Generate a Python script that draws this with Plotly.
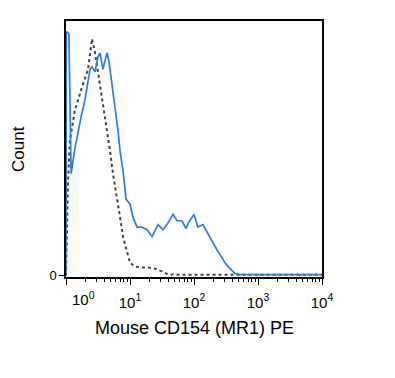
import plotly.graph_objects as go

# Blue (stained) histogram: fluorescence intensity vs normalized count
blue_x = [1.0, 1.01, 1.11, 1.20, 1.38, 1.48, 1.71, 1.98, 2.37, 2.55, 2.84, 3.16, 3.40, 3.78,
          4.37, 4.70, 5.24, 5.83, 6.49, 6.98, 7.76, 8.66, 10.0, 11.1, 12.9, 15.4, 18.5, 22.1,
          27.4, 32.8, 37.8, 47.0, 54.2, 64.9, 75.0, 83.2, 100, 115, 138, 160, 191, 229, 255,
          305, 365, 437, 525, 700, 1000, 2000, 4000, 7000, 10000]
blue_y = [0, 96, 95, 40, 50, 54, 62, 69, 81, 82, 80, 86, 87.5, 81,
          87.5, 84, 74, 66, 57, 49, 41.5, 30, 28, 23, 19, 19, 18, 15.3,
          20, 18, 20, 24, 21.5, 21.5, 18.4, 21, 24, 19, 20, 17, 13.3, 10, 8.2,
          5, 2.7, 0.8, 0.3, 0.3, 0.3, 0.3, 0.3, 0.3, 0.3]

# Dotted (isotype control) histogram
ctrl_x = [1.0, 1.07, 1.15, 1.38, 1.78, 2.21, 2.55, 2.84, 3.16, 3.65, 4.07, 4.53, 4.87, 5.42,
          6.26, 6.98, 7.76, 8.98, 10.0, 12.0, 15.4, 19.1, 24.5, 31.6, 39.3, 60, 100, 300,
          1000, 3000, 10000]
ctrl_y = [0, 35, 53, 65, 74, 81, 93, 87.5, 80, 70, 62, 54.5, 49, 40,
          31, 23, 15.3, 9, 5, 3.5, 3.1, 3.1, 2.7, 1.6, 0.4, 0.3, 0.3, 0.3,
          0.3, 0.3, 0.3]

tick_vals = [1, 10, 100, 1000, 10000]
tick_text = ["", "10<sup>1</sup>", "10<sup>2</sup>", "10<sup>3</sup>", "10<sup>4</sup>"]

x_title = "Mouse CD154 (MR1) PE"
y_title = "Count"

font_family = "Liberation Sans, Arial, sans-serif"

fig = go.Figure()
fig.add_trace(go.Scatter(x=ctrl_x, y=ctrl_y, mode="lines",
                         line=dict(color="#404040", width=2, dash="dot"),
                         showlegend=False))
fig.add_trace(go.Scatter(x=blue_x, y=blue_y, mode="lines",
                         line=dict(color="#2E7DD7", width=1.7),
                         showlegend=False))

fig.update_layout(
    width=387, height=370,
    margin=dict(l=58, r=73, t=13, b=101, autoexpand=False),
    paper_bgcolor="white", plot_bgcolor="white",
    font=dict(family=font_family, color="black"),
    xaxis=dict(
        type="log", range=[0, 4], automargin=False,
        tickvals=tick_vals, ticktext=tick_text,
        ticks="outside", ticklen=6, tickwidth=1.2, tickcolor="black",
        ticklabelstandoff=5,
        minor=dict(ticks="outside", ticklen=3, tickwidth=1, tickcolor="black",
                   dtick="D1", showgrid=False),
        showline=True, linecolor="black", linewidth=1.5, mirror=True,
        showgrid=False, zeroline=False,
        tickfont=dict(size=15, family=font_family),
    ),
    yaxis=dict(
        range=[-0.6, 100], automargin=False,
        tickvals=[0], ticktext=["0"],
        ticks="outside", ticklen=5, tickcolor="black",
        showline=True, linecolor="black", linewidth=1.5, mirror=True,
        showgrid=False, zeroline=False,
        tickfont=dict(size=13, family=font_family),
    ),
)

# 10^0 label, drawn slightly right of the axis origin as in the reference
fig.add_annotation(x=0.28, y=0, xref="x", yref="paper", text="10<sup>0</sup>",
                   showarrow=False, yanchor="top", yshift=-10,
                   font=dict(size=15, family=font_family, color="black"))

# axis titles
fig.add_annotation(x=0.5, y=0, xref="paper", yref="paper", text=x_title,
                   showarrow=False, yanchor="middle", yshift=-51,
                   font=dict(size=18, family=font_family, color="black"))
fig.add_annotation(x=0, y=0.5, xref="paper", yref="paper", text=y_title,
                   showarrow=False, xanchor="center", xshift=-48, textangle=-90,
                   font=dict(size=17, family=font_family, color="black"))

fig.write_html("out.html")
